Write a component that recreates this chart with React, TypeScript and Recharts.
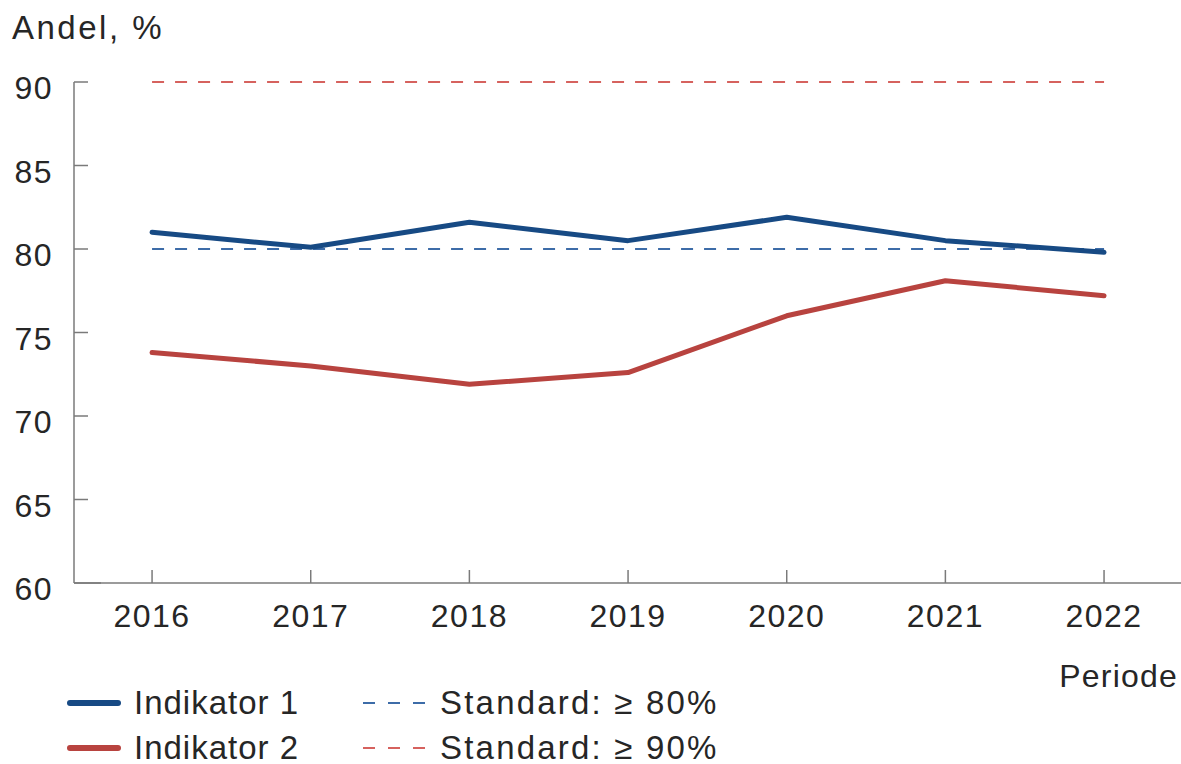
import { LineChart, Line, XAxis, YAxis } from 'recharts';

const years = [2016, 2017, 2018, 2019, 2020, 2021, 2022];
const indikator1 = [81.0, 80.1, 81.6, 80.5, 81.9, 80.5, 79.8];
const indikator2 = [73.8, 73.0, 71.9, 72.6, 76.0, 78.1, 77.2];
const standard80 = [80, 80, 80, 80, 80, 80, 80];
const standard90 = [90, 90, 90, 90, 90, 90, 90];
const yTicks = [60, 65, 70, 75, 80, 85, 90];

const BLUE = '#174a84';
const RED = '#b8433f';
const BLUE_DASH = '#3d6ca8';
const RED_DASH = '#d6625e';
const AXIS = '#7a7a7a';
const TEXT = '#262626';
const FONT = '"Liberation Sans", Arial, sans-serif';

const data = years.map((year, i) => ({
  year,
  ind1: indikator1[i],
  ind2: indikator2[i],
  std80: standard80[i],
  std90: standard90[i],
}));

function YTick({ x, y, payload }: any) {
  const len = payload.value === 60 ? 27 : 14;
  return (
    <g>
      <line x1={x} x2={x + len} y1={y} y2={y} stroke={AXIS} strokeWidth={1.5} />
      <text x={x - 21} y={y + 17} textAnchor="end" fontSize={32} fill={TEXT} fontFamily={FONT} letterSpacing={1.5}>
        {payload.value}
      </text>
    </g>
  );
}

function XTick({ x, y, payload }: any) {
  return (
    <g>
      <line x1={x} x2={x} y1={y} y2={y - 13} stroke={AXIS} strokeWidth={1.5} />
      <text x={x} y={y + 44} textAnchor="middle" fontSize={32} fill={TEXT} fontFamily={FONT} letterSpacing={1.5}>
        {payload.value}
      </text>
    </g>
  );
}

function LegendItem({ color, dashed, label, left, top, spacing }: {
  color: string; dashed?: boolean; label: string; left: number; top: number; spacing: number;
}) {
  return (
    <div style={{ position: 'absolute', left, top, display: 'flex', alignItems: 'center' }}>
      <svg width={64} height={10} style={{ display: 'block' }}>
        {dashed ? (
          <line x1={1} x2={63} y1={5} y2={5} stroke={color} strokeWidth={2} strokeDasharray="12 13" />
        ) : (
          <line x1={3} x2={51} y1={5} y2={5} stroke={color} strokeWidth={6} strokeLinecap="round" />
        )}
      </svg>
      <span style={{ marginLeft: dashed ? 14 : 3, fontSize: 33, color: TEXT, fontFamily: FONT, letterSpacing: spacing, lineHeight: '40px' }}>
        {label}
      </span>
    </div>
  );
}

export default function App() {
  return (
    <div style={{ position: 'relative', width: 1181, height: 764, background: '#fff', fontFamily: FONT }}>
      <style>{'body{margin:0;overflow:hidden;}'}</style>
      <div style={{ position: 'absolute', left: 12, top: 8, fontSize: 33, color: TEXT, letterSpacing: 2.5, lineHeight: '40px' }}>
        Andel, %
      </div>
      <LineChart width={1181} height={764} data={data} margin={{ top: 82, right: 0, left: 0, bottom: 121 }}>
        <XAxis
          dataKey="year"
          type="number"
          domain={[2015.508, 2022.485]}
          allowDataOverflow
          ticks={years}
          interval={0}
          height={60}
          tickSize={0}
          tickMargin={0}
          axisLine={{ stroke: AXIS, strokeWidth: 1.5 }}
          tickLine={false}
          tick={<XTick />}
        />
        <YAxis
          type="number"
          domain={[60, 90]}
          ticks={yTicks}
          interval={0}
          width={74}
          tickSize={0}
          tickMargin={0}
          axisLine={{ stroke: AXIS, strokeWidth: 1.5 }}
          tickLine={false}
          tick={<YTick />}
        />
        <Line dataKey="std90" stroke={RED_DASH} strokeWidth={2} strokeDasharray="12 11" dot={false} isAnimationActive={false} />
        <Line dataKey="std80" stroke={BLUE_DASH} strokeWidth={2} strokeDasharray="12 11" dot={false} isAnimationActive={false} />
        <Line dataKey="ind2" stroke={RED} strokeWidth={5} strokeLinejoin="round" strokeLinecap="round" dot={false} isAnimationActive={false} />
        <Line dataKey="ind1" stroke={BLUE} strokeWidth={5} strokeLinejoin="round" strokeLinecap="round" dot={false} isAnimationActive={false} />
      </LineChart>
      <div style={{ position: 'absolute', right: 3, top: 656, fontSize: 32, color: TEXT, letterSpacing: 1.2, lineHeight: '40px' }}>
        Periode
      </div>
      <LegendItem color={BLUE} label="Indikator 1" left={67} top={683} spacing={1} />
      <LegendItem color={RED} label="Indikator 2" left={67} top={728} spacing={1} />
      <LegendItem color={BLUE_DASH} dashed label="Standard: ≥ 80%" left={362} top={683} spacing={2.2} />
      <LegendItem color={RED_DASH} dashed label="Standard: ≥ 90%" left={362} top={728} spacing={2.2} />
    </div>
  );
}
